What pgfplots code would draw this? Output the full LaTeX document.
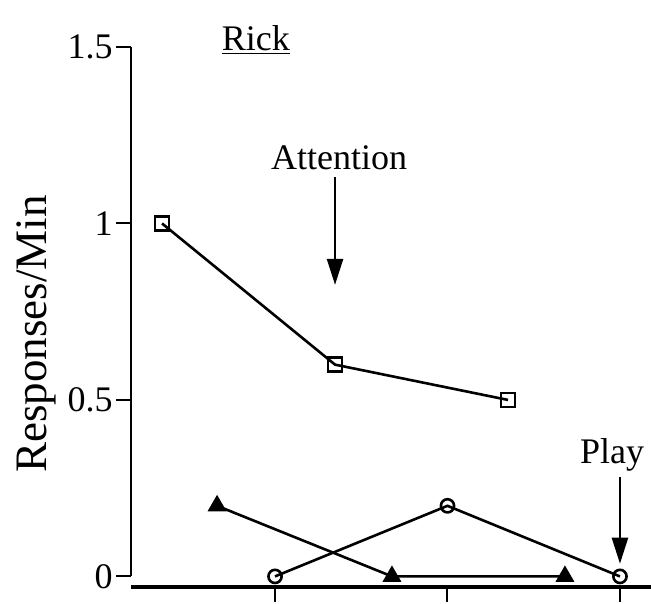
\documentclass[border=0pt]{standalone}
\usepackage{pgfplots}
\pgfplotsset{compat=1.18}
\usepackage{fontspec}
\setmainfont{Liberation Serif}
\usetikzlibrary{arrows.meta}
\begin{document}
\begin{tikzpicture}
\begin{axis}[
  at={(0,0)}, anchor=south west,
  scale only axis,
  width=260pt, height=270pt,
  xmin=0.165, xmax=3.18,
  ymin=-0.03, ymax=1.5,
  clip=false,
  axis line style={draw=none},
  xtick={1,2,3}, xticklabels={},
  ytick={0,0.5,1,1.5},
  yticklabels={0,0.5,1,1.5},
  xtick pos=lower, ytick pos=left,
  tick align=outside,
  major tick length=7.5pt,
  tick style={black, line width=1pt},
  /pgf/number format/assume math mode=true,
  yticklabel style={font=\fontsize{18}{18}\selectfont, inner xsep=1.5pt},
  ylabel={Responses/Min},
  ylabel style={at={(axis description cs:-0.181,0.4685)}, anchor=center, font=\fontsize{22.5}{22.5}\selectfont},
]
% axis lines
\draw[line width=1.2pt] (axis cs:0.165,0) -- (axis cs:0.165,1.5);
\draw[line width=1.6pt] (axis cs:0.165,-0.03) -- (axis cs:3.18,-0.03);

\addplot[black, line width=1.3pt, mark=triangle*, mark size=4.2pt, mark options={fill=black}]
  coordinates {(0.664,0.2) (1.678,0) (2.681,0)};
\addplot[black, line width=1.3pt, mark=o, mark size=3.3pt, mark options={fill=white}]
  coordinates {(1,0) (2,0.2) (3,0)};
\addplot[black, line width=1.3pt, mark=square, mark size=3.5pt, mark options={fill=white}]
  coordinates {(0.345,1.0) (1.348,0.6) (2.351,0.5)};

\node[font=\fontsize{18}{18}\selectfont] at (axis description cs:0.24,1.013) {\underline{Rick}};
\node[font=\fontsize{18}{18}\selectfont] at (axis cs:1.371,1.186) {Attention};
\draw[line width=1.2pt, -{Triangle[width=8pt,length=13pt]}] (axis cs:1.348,1.132) -- (axis cs:1.348,0.826);
\node[font=\fontsize{18}{18}\selectfont] at (axis cs:2.954,0.345) {Play};
\draw[line width=1.2pt, -{Triangle[width=8pt,length=13pt]}] (axis cs:3.0,0.283) -- (axis cs:3.0,0.036);
\end{axis}
\pgfresetboundingbox
\useasboundingbox (-65.5pt,-8pt) rectangle (260pt,293.5pt);
\end{tikzpicture}
\end{document}
